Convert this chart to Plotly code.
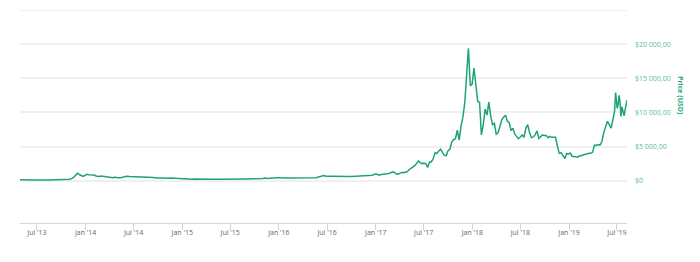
import pandas as pd
import plotly.graph_objects as go

# Weekly BTC prices (USD), starting 2013-04-28
p2013 = [135, 115, 115, 122, 133, 122, 100, 100, 102, 88, 76, 98, 91, 98, 104, 106, 113, 123,
         129, 126, 128, 134, 132, 126, 140, 173, 194, 225, 340, 490, 800, 1100, 900, 700, 620, 750]
p2014 = [930, 860, 830, 880, 820, 690, 620, 600, 670, 630, 630, 560, 460, 450, 420, 500, 440,
         440, 440, 450, 580, 660, 650, 600, 590, 600, 635, 630, 625, 590, 590, 590, 500, 510, 480,
         480, 470, 400, 375, 320, 390, 385, 355, 325, 360, 385, 365, 375, 375, 350, 320, 315]
p2015 = [265, 270, 210, 250, 225, 225, 235, 240, 260, 290, 285, 265, 245, 255, 235, 225, 220,
         240, 240, 235, 240, 225, 225, 235, 245, 250, 270, 310, 275, 290, 280, 265, 255, 230, 230,
         240, 230, 230, 235, 240, 250, 265, 290, 330, 375, 330, 325, 360, 395, 435, 440, 420]
p2016 = [430, 450, 385, 400, 375, 375, 405, 440, 430, 400, 415, 410, 415, 420, 420, 430, 460,
         450, 455, 455, 445, 530, 575, 685, 740, 640, 700, 650, 665, 655, 620, 590, 570, 580, 575,
         605, 605, 610, 600, 610, 620, 640, 655, 700, 710, 700, 730, 735, 765, 770, 790, 895]
p2017 = [1020, 910, 820, 920, 920, 1020, 1000, 1050, 1190, 1270, 1230, 970, 960, 1100, 1210,
         1180, 1250, 1350, 1600, 1780, 2050, 2200, 2500, 2900, 2650, 2500, 2550, 2500, 1930, 2750,
         2750, 3250, 4100, 4000, 4350, 4600, 4120, 3700, 3670, 4400, 4600, 5700, 6000, 6150, 7400,
         5950, 8000, 9300, 11300, 15000, 19400, 13900, 14150]
p2018 = [16500, 13800, 11600, 11500, 6700, 8200, 10500, 9600, 11500, 9500, 8200, 8400, 6800,
         7000, 8000, 8900, 9300, 9600, 8700, 8500, 7350, 7700, 6800, 6500, 6150, 6400, 6700, 6350,
         7700, 8200, 7000, 6300, 6400, 6700, 7300, 6200, 6500, 6700, 6600, 6600, 6300, 6500, 6350,
         6400, 6350, 5100, 4000, 4100, 3600, 3250, 3950, 3900]
p2019 = [4050, 3550, 3550, 3550, 3450, 3650, 3650, 3800, 3800, 3900, 4000, 4000, 4150, 5200,
         5150, 5300, 5200, 5700, 7000, 8000, 8700, 8200, 7700, 9000]
tail_dates = ["2019-06-22", "2019-06-26", "2019-06-29", "2019-07-02", "2019-07-05", "2019-07-09",
              "2019-07-13", "2019-07-16", "2019-07-20", "2019-07-24", "2019-07-28", "2019-08-01",
              "2019-08-04", "2019-08-06", "2019-08-08"]
tail_prices = [10200, 12900, 11900, 10600, 11000, 12500, 11400, 9400, 10800, 9800, 9500, 10400,
               10900, 11400, 11800]

weekly = p2013 + p2014 + p2015 + p2016 + p2017 + p2018 + p2019
dates = list(pd.date_range("2013-04-28", periods=len(weekly), freq="7D")) + list(pd.to_datetime(tail_dates))
prices = weekly + tail_prices

tick_dates = ["2013-07-01", "2014-01-01", "2014-07-01", "2015-01-01", "2015-07-01", "2016-01-01",
              "2016-07-01", "2017-01-01", "2017-07-01", "2018-01-01", "2018-07-01", "2019-01-01",
              "2019-07-01"]
tick_text = ["Jul '13", "Jan '14", "Jul '14", "Jan '15", "Jul '15", "Jan '16", "Jul '16",
             "Jan '17", "Jul '17", "Jan '18", "Jul '18", "Jan '19", "Jul '19"]
y_vals = [0, 5000, 10000, 15000, 20000]
y_text = ["$0", "$5 000,00", "$10 000,00", "$15 000,00", "$20 000,00"]

GREEN = "#1fa27a"
LABEL_GREEN = "#5cbd98"

fig = go.Figure()
fig.add_trace(go.Scatter(x=dates, y=prices, mode="lines",
                         line=dict(color=GREEN, width=1.5), hoverinfo="skip"))

fig.update_layout(
    width=700, height=262,
    margin=dict(l=20, r=73, t=10, b=39),
    paper_bgcolor="white", plot_bgcolor="white",
    showlegend=False,
    font=dict(family="Open Sans", size=7, color="#666666"),
    xaxis=dict(
        type="date",
        range=["2013-04-28", "2019-08-08"],
        tickvals=tick_dates, ticktext=tick_text,
        showgrid=False, zeroline=False,
        showline=True, linecolor="#ccd6eb", linewidth=1,
        ticks="outside", ticklen=6, tickcolor="#ccd6eb", tickwidth=1,
        ticklabelstandoff=-3,
        tickfont=dict(size=7, color="#666666"),
    ),
    yaxis=dict(
        side="right",
        range=[-6200, 25000],
        tickvals=y_vals, ticktext=y_text,
        showgrid=True, gridcolor="#f0f0f0", gridwidth=2,
        zeroline=False, showline=False, ticks="",
        ticklabelstandoff=7,
        tickfont=dict(size=7, color=LABEL_GREEN),
    ),
    shapes=[dict(type="line", xref="paper", yref="y", x0=0, x1=1, y0=25000, y1=25000,
                 line=dict(color="#f0f0f0", width=2), layer="below")],
    annotations=[dict(text="<b>Price (USD)</b>", xref="paper", yref="paper",
                      x=(680.5 - 20) / 607, y=(223 - 95.5) / 213,
                      xanchor="center", yanchor="middle", textangle=90, showarrow=False,
                      font=dict(size=7, color="#2aa882", family="Open Sans"))],
)

fig.write_html("out.html")
